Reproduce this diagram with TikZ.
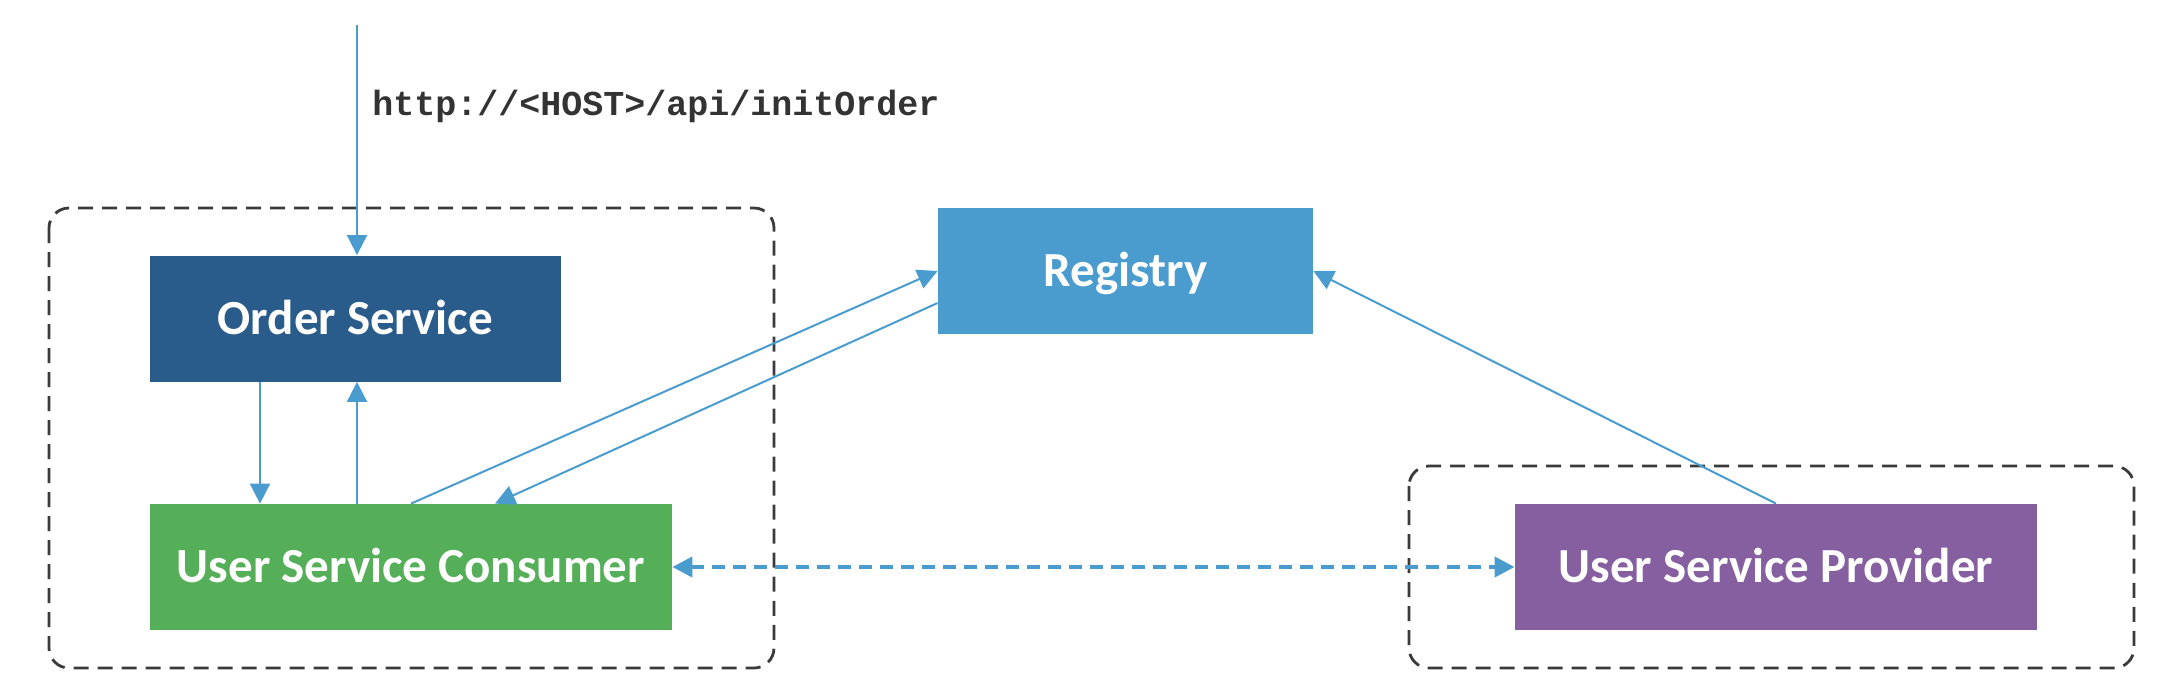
\documentclass[tikz,border=0pt]{standalone}
\usepackage{fontspec}
\setmainfont{Carlito}
\newfontfamily\urlfont{Liberation Mono}
\usetikzlibrary{arrows.meta}
\definecolor{orderblue}{HTML}{295C8A}
\definecolor{consgreen}{HTML}{55AE58}
\definecolor{regblue}{HTML}{4A9CCF}
\definecolor{provpurple}{HTML}{855FA0}
\definecolor{linkblue}{HTML}{4A9CCF}
\definecolor{framegray}{HTML}{3A3A3A}
\definecolor{labelgray}{HTML}{333333}
\tikzset{
  svcbox/.style={draw=none, inner sep=0pt, text=white,
    font=\bfseries\fontsize{24.5}{28}\selectfont, text height=15.6pt, text depth=0pt,
    minimum height=63pt},
  flow/.style={draw=linkblue, line width=1pt, -{Triangle[length=10pt,width=10pt]}},
  peer/.style={draw=linkblue, line width=2pt, dash pattern=on 6.5pt off 4pt,
    {Triangle[length=10pt,width=10pt]}-{Triangle[length=10pt,width=10pt]}},
  groupframe/.style={draw=framegray, line width=1.4pt, dash pattern=on 7.5pt off 4.5pt,
    rounded corners=10pt}
}
\begin{document}
\begin{tikzpicture}[x=0.5pt,y=-0.5pt]
\useasboundingbox (0,0) rectangle (2176,692);

% group frames
\draw[groupframe] (49,208) rectangle (774,668);
\draw[groupframe] (1409,466) rectangle (2134,668);

% services
\node[svcbox, fill=orderblue, minimum width=205.5pt] (order) at (355.5,318.5) {Order Service};
\node[svcbox, fill=consgreen, minimum width=261pt] (consumer) at (411,567) {User Service Consumer};
\node[svcbox, fill=regblue, minimum width=187.5pt] (registry) at (1125.5,271) {Registry};
\node[svcbox, fill=provpurple, minimum width=261pt] (provider) at (1776,567) {User Service Provider};

% url label
\node[anchor=base west, inner sep=0pt, text=labelgray,
  font=\urlfont\bfseries\fontsize{17.5}{20}\selectfont] (url) at (372,115) {http://<HOST>/api/initOrder};

% helper coordinates
\coordinate (top) at (357,25);
\coordinate (dn) at (260,0);

% connectors
\draw[flow] (top) -- (top |- order.north);
\draw[flow] (order.south -| dn) -- (consumer.north -| dn);
\draw[flow] (consumer.north -| top) -- (order.south -| top);
\draw[flow] (consumer.north) -- (registry.west);
\draw[flow] ([yshift=-16pt]registry.west) -- ([xshift=42pt]consumer.north);
\draw[flow] (provider.north) -- (registry.east);
\draw[peer] (consumer.east) -- (provider.west);
\end{tikzpicture}
\end{document}
